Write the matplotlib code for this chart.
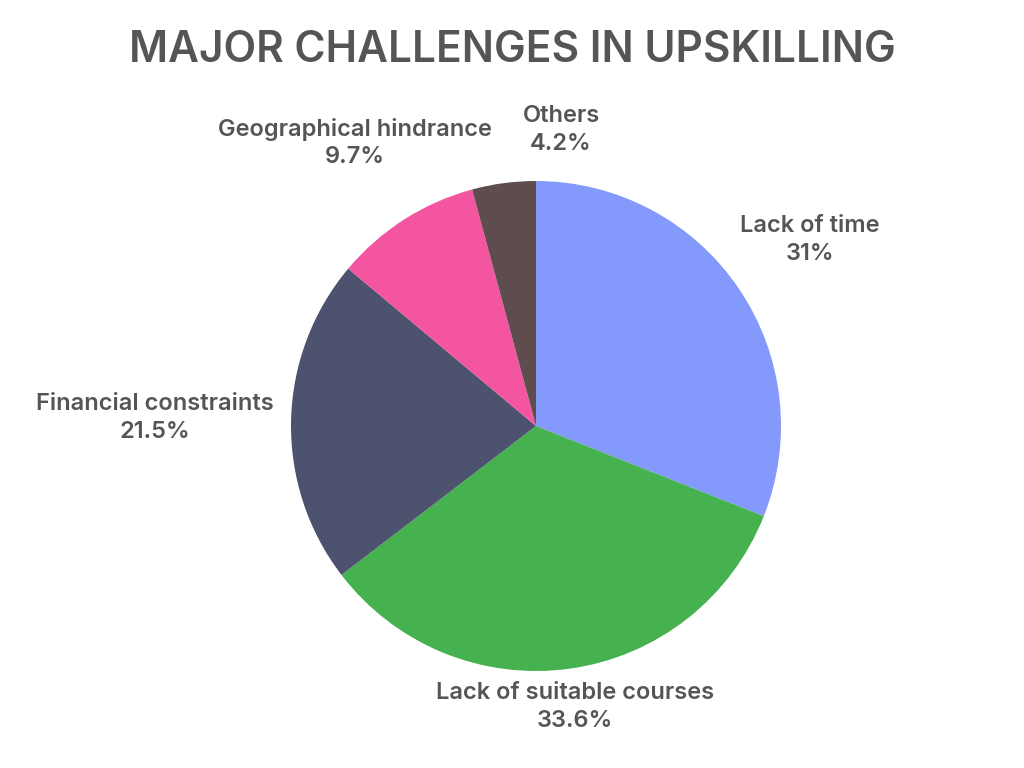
import matplotlib.pyplot as plt

labels = ["Lack of time", "Lack of suitable courses", "Financial constraints",
          "Geographical hindrance", "Others"]
values = [31, 33.6, 21.5, 9.7, 4.2]
pct_labels = ["31%", "33.6%", "21.5%", "9.7%", "4.2%"]
colors = ["#8499FC", "#45B14F", "#4D526F", "#F455A0", "#5E4C4E"]

plt.rcParams['font.family'] = ['Inter', 'DejaVu Sans']
txt = "#555555"

fig = plt.figure(figsize=(10.24, 7.68), dpi=100)
ax = fig.add_axes([0, 0, 1, 1])

cx, cy, r = 536, 342, 245
wedges, _ = ax.pie(values, colors=colors, startangle=90, counterclock=False,
                   center=(cx, cy), radius=r, frame=True)
ax.set_xlim(0, 1024)
ax.set_ylim(0, 768)
ax.set_aspect("equal")
ax.axis("off")

# label centres in pixels (x, y from top)
label_pos = [(810, 240), (575, 707), (155, 418), (355, 143), (561, 130)]
for lab, pct, (x, y) in zip(labels, pct_labels, label_pos):
    ax.text(x, 768 - y, lab + "\n" + pct, ha="center", va="center",
            fontsize=17, color=txt, fontweight="semibold", linespacing=1.3)

fig.text(0.5, 1 - 50 / 768, "MAJOR CHALLENGES IN UPSKILLING", ha="center",
         va="center", fontsize=30.5, fontweight="semibold", color=txt)

fig.savefig("out.png", dpi=100)
